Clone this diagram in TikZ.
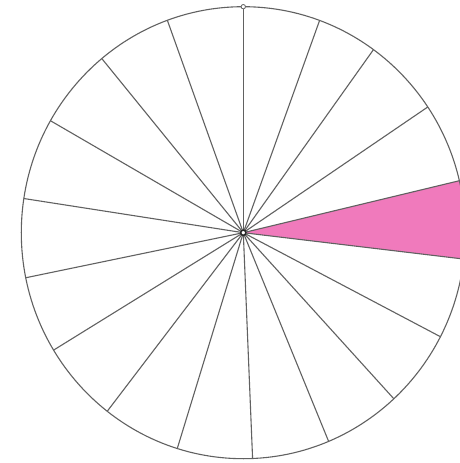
\documentclass[tikz,border=0pt]{standalone}
\definecolor{sectorpink}{RGB}{240,122,188}
\begin{document}
\begin{tikzpicture}[x=1pt, y=1pt, spoke/.style={draw=black!62, line width=1.1pt}]
\useasboundingbox (-243.3,-230.3) rectangle (216.7,232.7);
\clip (-243.3,-230.3) rectangle (216.7,232.7);
\fill[white] (-243.3,-230.3) rectangle (216.7,232.7);
\coordinate (centre) at (0,0);
% shaded sector
\fill[sectorpink] (centre) -- (-6.7:222 and 226)
  arc[start angle=-6.7, end angle=13.3, x radius=222, y radius=226] -- cycle;
% spokes
\foreach \a in {90,69.9,54.1,33.8,13.3,-6.7,-27.4,-47.3,-67.4,-87.6,-107.3,-127.8,-148.7,-168.5,171.3,150.3,129.6,110}
  \draw[spoke] (centre) -- (\a:222 and 226);
% rim
\draw[spoke] (centre) ellipse[x radius=222, y radius=226];
% marks
\draw[line width=1.5pt, draw=black!85, fill=white] (centre) circle[radius=2.6];
\draw[spoke, line width=0.8pt, fill=white] (90:222 and 226) circle[radius=2.2];
\end{tikzpicture}
\end{document}
